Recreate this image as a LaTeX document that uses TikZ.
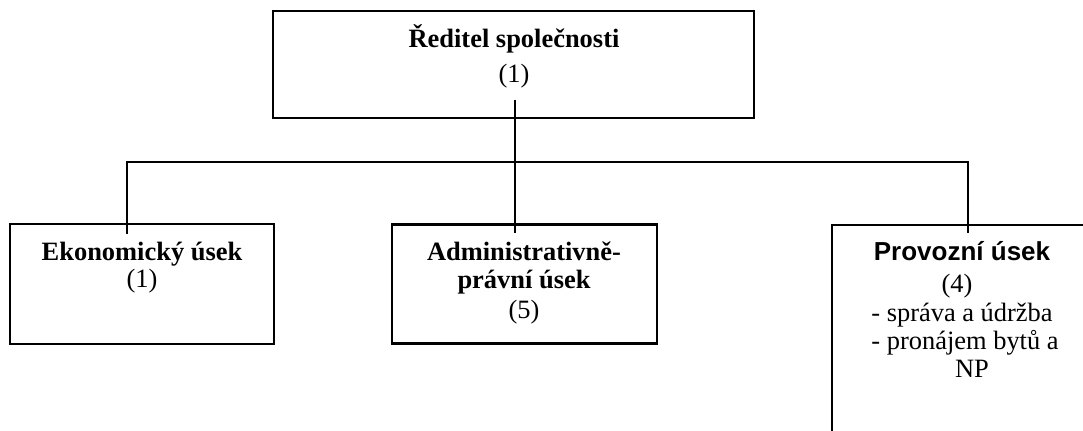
\documentclass[tikz,border=0pt]{standalone}
\usepackage{fontspec}
\setmainfont{Liberation Serif}
\newfontfamily\arialfont{Liberation Sans}
\newcommand\pxu{0.45pt}
\tikzset{
  box/.style={draw, line width=1pt, inner sep=0pt, outer sep=0pt},
  conn/.style={draw, line width=0.8pt},
  txt/.style={anchor=base, inner sep=0pt, font=\fontsize{11.9}{14}\selectfont},
  btxt/.style={txt, font=\fontsize{11.9}{14}\selectfont\bfseries},
  atxt/.style={txt, font=\fontsize{11.7}{14}\selectfont\arialfont\bfseries},
}
\begin{document}
\begin{tikzpicture}[x=0.45pt, y=-0.45pt]
\useasboundingbox (0,0) rectangle (1083,430);
\clip (0,0) rectangle (1083,430);
% boxes
\node[box, minimum width=481*\pxu, minimum height=107*\pxu] (dir) at (513.5,64.5) {};
\node[box, minimum width=264*\pxu, minimum height=120*\pxu] (eko) at (142,284) {};
\node[box, minimum width=265*\pxu, minimum height=119*\pxu] (adm) at (524.5,284) {};
\node[box, minimum width=260*\pxu, minimum height=240*\pxu] (pro) at (962,345) {};
% texts
\node[btxt] (t1) at (514,47) {Ředitel společnosti};
\node[txt] (t2) at (514,82) {(1)};
\node[btxt] (t3) at (142,260) {Ekonomický úsek};
\node[txt] (t4) at (142,287) {(1)};
\node[btxt] (t5) at (524,260) {Administrativně-};
\node[btxt] (t6) at (524,288) {právní úsek};
\node[txt] (t7) at (524,318) {(5)};
\node[atxt] (t8) at (962,260) {Provozní úsek};
\node[txt] (t9) at (957,292) {(4)};
\node[txt] (t10) at (962,321) {- správa a údržba};
\node[txt] (t11) at (965,349) {- pronájem bytů a};
\node[txt] (t12) at (972,377) {NP};
% connector points
\coordinate (stem) at (515,100);
\coordinate (junc) at (515,162);
\coordinate (ekoIn) at (127,234);
\coordinate (admIn) at (515,233);
\coordinate (proIn) at (968,233);
\draw[conn] (stem) -- (junc);
\draw[conn] (junc) -| (ekoIn);
\draw[conn] (junc) -| (proIn);
\draw[conn] (junc) -- (admIn);
\end{tikzpicture}
\end{document}
